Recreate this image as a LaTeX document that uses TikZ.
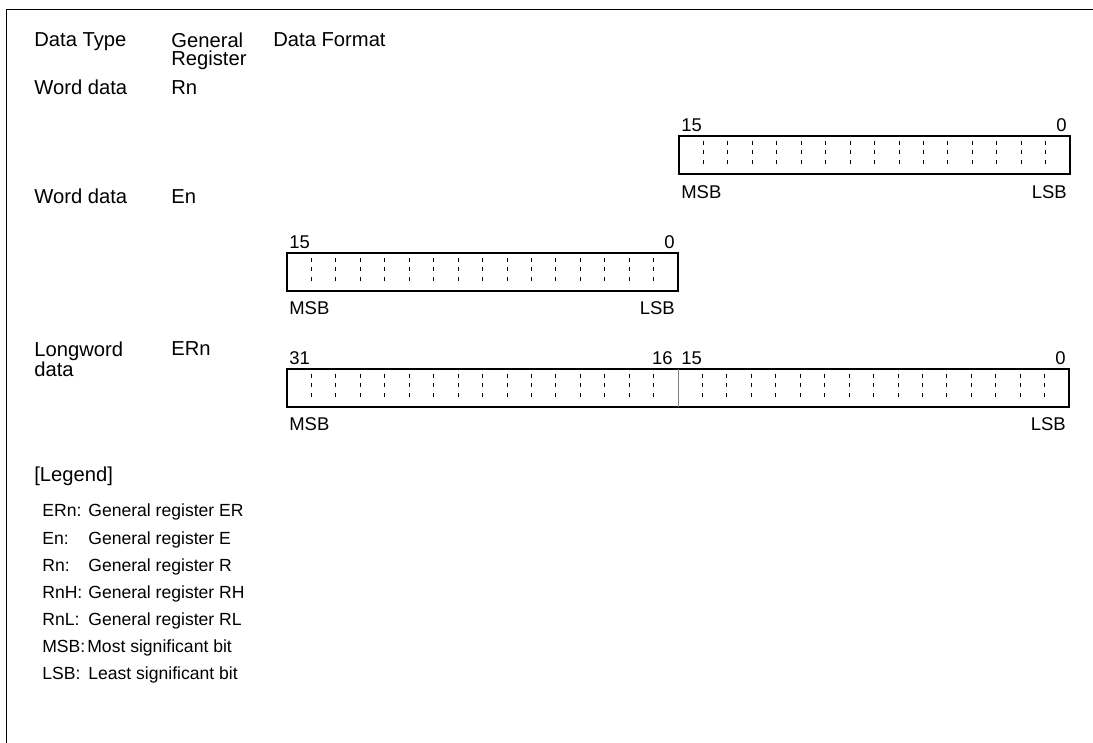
\documentclass[tikz,border=0pt]{standalone}
\usepackage{fontspec}
\setmainfont{Liberation Sans}
\begin{document}
\begin{tikzpicture}[x=0.02cm,y=-0.02cm,
    txt/.style={anchor=base west,inner sep=0pt,font=\fontsize{11.5}{10.5}\selectfont},
    twoline/.style={txt,anchor=north west,align=left},
    bitl/.style={anchor=base west,inner sep=0pt,font=\fontsize{10.5}{12}\selectfont},
    bitr/.style={anchor=base east,inner sep=0pt,font=\fontsize{10.5}{12}\selectfont},
    leg/.style={anchor=base west,inner sep=0pt,font=\fontsize{10}{12}\selectfont},
    regbox/.style={line width=1.1pt},
    bittick/.style={line width=0.5pt,dash pattern=on 2.27pt off 3.23pt}]
  \useasboundingbox (0,0) rectangle (1093,743);
  % frame
  \draw[line width=1.1pt] (1093,9.5) -- (6.5,9.5) -- (6.5,743);
  % headings
  \node[txt] (hType) at (34,47) {Data Type};
  \node[twoline] (hReg) at (171,32.2) {General\\Register};
  \node[txt] (hFmt) at (273,47) {Data Format};
  % data types
  \node[txt] (tWordR) at (34,95) {Word data};
  \node[txt] (rRn) at (171,95) {Rn};
  \node[txt] (tWordE) at (34,204) {Word data};
  \node[txt] (rEn) at (171,204) {En};
  \node[twoline] (tLong) at (34,341.2) {Longword\\data};
  \node[txt] (rERn) at (171,356) {ERn};
  % word data Rn
  \draw[regbox] (679,136) rectangle (1070,174);
  \foreach \i in {1,...,15}
    \draw[bittick] ({679+\i*24.4375},140.7) -- ({679+\i*24.4375},164.3);
  \node[bitl] (rnHi) at (681,131.5) {15};
  \node[bitr] (rnLo) at (1067,131.5) {0};
  \node[bitl] (rnMsb) at (681,198.5) {MSB};
  \node[bitr] (rnLsb) at (1067,198.5) {LSB};
  % word data En
  \draw[regbox] (287,253) rectangle (678,291);
  \foreach \i in {1,...,15}
    \draw[bittick] ({287+\i*24.4375},257.7) -- ({287+\i*24.4375},281.3);
  \node[bitl] (enHi) at (289,248.5) {15};
  \node[bitr] (enLo) at (675,248.5) {0};
  \node[bitl] (enMsb) at (289,314.5) {MSB};
  \node[bitr] (enLsb) at (675,314.5) {LSB};
  % longword data ERn
  \draw[regbox] (287,369) rectangle (1069,407);
  \foreach \i in {1,...,31}
    \draw[bittick] ({287+\i*24.4375},373.7) -- ({287+\i*24.4375},397.3);
  \draw[line width=0.4pt,gray] (678,369) -- (678,407);
  \node[bitl] (ernHi) at (289,364.5) {31};
  \node[bitr] (ernMidHi) at (673,364.5) {16};
  \node[bitl] (ernMidLo) at (681,364.5) {15};
  \node[bitr] (ernLo) at (1066,364.5) {0};
  \node[bitl] (ernMsb) at (289,431) {MSB};
  \node[bitr] (ernLsb) at (1066,431) {LSB};
  % legend
  \node[txt] (legHead) at (34,481) {[Legend]};
  \node[leg] (kERn) at (42,517) {ERn:};
  \node[leg] (vERn) at (88,517) {General register ER};
  \node[leg] (kEn) at (42,544) {En:};
  \node[leg] (vEn) at (88,544) {General register E};
  \node[leg] (kRn) at (42,571) {Rn:};
  \node[leg] (vRn) at (88,571) {General register R};
  \node[leg] (kRnH) at (42,598) {RnH:};
  \node[leg] (vRnH) at (88,598) {General register RH};
  \node[leg] (kRnL) at (42,625) {RnL:};
  \node[leg] (vRnL) at (88,625) {General register RL};
  \node[leg] (kMsb) at (42,652) {MSB:};
  \node[leg] (vMsb) at (87,652) {Most significant bit};
  \node[leg] (kLsb) at (42,679) {LSB:};
  \node[leg] (vLsb) at (88,679) {Least significant bit};
\end{tikzpicture}
\end{document}
